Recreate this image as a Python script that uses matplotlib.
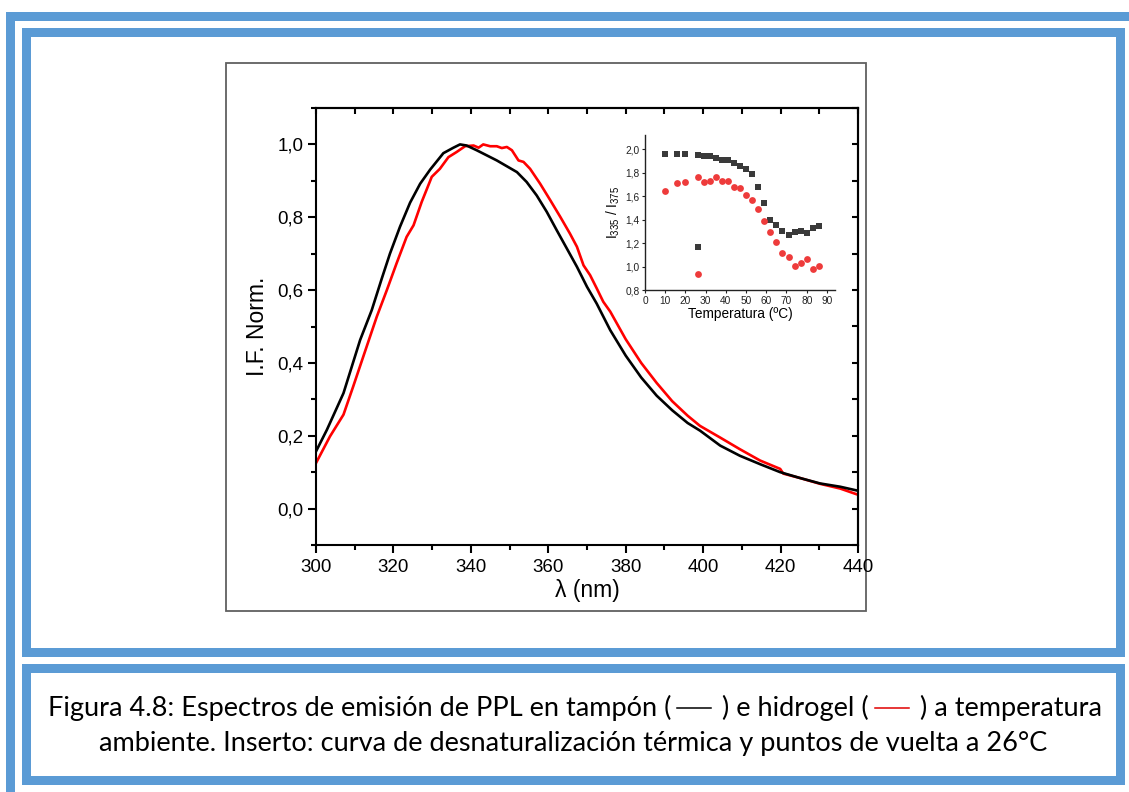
import matplotlib
matplotlib.use("Agg")
import matplotlib.pyplot as plt
from matplotlib.patches import Rectangle
from matplotlib.lines import Line2D
from matplotlib.ticker import MultipleLocator, FuncFormatter

# ---- emission spectra (normalised fluorescence intensity) ----
wl_buffer = [300, 302.8, 307.1, 311.4, 314.4, 317.0, 319.1, 321.7, 324.3, 326.9,
             329.5, 332.9, 335.5, 337.2, 338.9, 341.5, 344.1, 346.7, 349.3, 351.9,
             354.4, 357.0, 359.6, 362.2, 364.8, 367.4, 370.0, 372.5, 376.0, 380,
             384, 388, 392, 396, 399.2, 404.4, 409.5, 414.7, 419.9, 425.0, 430.2,
             435.4, 440]
if_buffer = [0.157, 0.216, 0.317, 0.463, 0.545, 0.632, 0.700, 0.774, 0.840, 0.892,
             0.931, 0.976, 0.991, 1.000, 0.997, 0.984, 0.970, 0.956, 0.940, 0.924,
             0.897, 0.860, 0.815, 0.764, 0.714, 0.664, 0.609, 0.563, 0.490, 0.420,
             0.360, 0.310, 0.270, 0.235, 0.214, 0.173, 0.145, 0.122, 0.100, 0.084,
             0.069, 0.060, 0.049]

wl_gel = [300, 303.6, 307.1, 309.6, 312.2, 315.7, 318.3, 320.8, 323.4, 325.2,
          327.3, 329.9, 332.0, 334.2, 336.3, 338.5, 340.7, 342.0, 343.2, 345.0,
          346.7, 348.0, 349.3, 350.6, 352.3, 353.6, 355.3, 357.9, 360.5, 363.1,
          365.6, 367.4, 369.1, 370.8, 372.5, 374.2, 376.0, 380, 384, 388, 392,
          396, 399.2, 404.4, 409.5, 414.7, 419.9, 420.7, 425.0, 430.2, 435.4, 440]
if_gel = [0.125, 0.198, 0.258, 0.335, 0.417, 0.527, 0.600, 0.673, 0.746, 0.778,
          0.842, 0.911, 0.933, 0.965, 0.979, 0.995, 0.997, 0.991, 1.000, 0.995,
          0.995, 0.990, 0.993, 0.984, 0.956, 0.952, 0.933, 0.892, 0.847, 0.801,
          0.755, 0.719, 0.668, 0.641, 0.605, 0.568, 0.541, 0.465, 0.400, 0.345,
          0.295, 0.255, 0.227, 0.195, 0.163, 0.132, 0.109, 0.096, 0.084, 0.068,
          0.055, 0.038]

# ---- thermal denaturation (inset) ----
temp = [10, 16, 20, 26, 29, 32, 35, 38, 41, 44, 47, 50, 53, 56, 59, 62, 65, 68,
        71, 74, 77, 80, 83, 86]
ratio_buffer = [1.957, 1.96, 1.958, 1.95, 1.94, 1.94, 1.92, 1.91, 1.91, 1.878,
                1.858, 1.83, 1.784, 1.674, 1.538, 1.40, 1.356, 1.299, 1.271,
                1.294, 1.302, 1.288, 1.33, 1.342]
ratio_gel = [1.643, 1.708, 1.722, 1.759, 1.722, 1.730, 1.759, 1.730, 1.730, 1.677,
             1.665, 1.609, 1.566, 1.489, 1.390, 1.296, 1.209, 1.118, 1.081, 1.007,
             1.033, 1.061, 0.979, 1.004]
temp_return = [26]
ratio_buffer_return = [1.163]
ratio_gel_return = [0.933]

main_xticks = [300, 320, 340, 360, 380, 400, 420, 440]
main_yticks = [0.0, 0.2, 0.4, 0.6, 0.8, 1.0]
inset_xticks = [0, 10, 20, 30, 40, 50, 60, 70, 80, 90]
inset_yticks = [0.8, 1.0, 1.2, 1.4, 1.6, 1.8, 2.0]

caption_line1 = ["Figura 4.8: Espectros de emisión de PPL en tampón (", "black",
                 " ) e hidrogel (", "red", " ) a temperatura"]
caption_line2 = "ambiente. Inserto: curva de desnaturalización térmica y puntos de vuelta a 26°C"

W, H = 1129, 792
BLUE = "#5b9bd5"
plt.rcParams["font.family"] = ["Liberation Sans", "DejaVu Sans"]
plt.rcParams["mathtext.default"] = "regular"

fig = plt.figure(figsize=(W / 100, H / 100), dpi=100)
fig.patch.set_facecolor("white")


def fx(x):
    return x / W


def fy(y):
    return 1 - y / H


def band_box(x0, y0, x1, y1, z):
    """Filled blue frame of 9 px thickness."""
    fig.add_artist(Rectangle((fx(x0), fy(y1)), fx(x1) - fx(x0), fy(y0) - fy(y1),
                             transform=fig.transFigure, facecolor=BLUE,
                             edgecolor="none", zorder=z))
    fig.add_artist(Rectangle((fx(x0 + 9), fy(y1 - 9)), fx(x1 - 9) - fx(x0 + 9),
                             fy(y0 + 9) - fy(y1 - 9), transform=fig.transFigure,
                             facecolor="white", edgecolor="none", zorder=z + 0.1))


# outer frame (runs past the right and bottom edges)
band_box(6, 12, 1140, 805, -10)
# chart box and caption box
band_box(22, 28, 1125, 657, -9)
band_box(22, 664, 1125, 785, -9)

# thin grey frame around the plot
fig.add_artist(Rectangle((fx(226), fy(611)), fx(866) - fx(226), fy(63) - fy(611),
                         transform=fig.transFigure, facecolor="white",
                         edgecolor="#606060", lw=1.3, zorder=-8))

comma = FuncFormatter(lambda v, p: f"{v:.1f}".replace(".", ","))

# ---- main axes ----
ax = fig.add_axes([fx(316), fy(545), fx(858) - fx(316), fy(108) - fy(545)])
ax.plot(wl_buffer, if_buffer, color="black", lw=1.9, zorder=3)
ax.plot(wl_gel, if_gel, color="#ff0000", lw=1.9, zorder=2)
ax.set_xlim(300, 440)
ax.set_ylim(-0.1, 1.1)
ax.set_xticks(main_xticks)
ax.set_yticks(main_yticks)
ax.xaxis.set_minor_locator(MultipleLocator(10))
ax.yaxis.set_minor_locator(MultipleLocator(0.1))
ax.yaxis.set_major_formatter(comma)
for s in ax.spines.values():
    s.set_linewidth(1.5)
ax.tick_params(axis="x", which="major", direction="out", length=6, width=1.5,
               labelsize=13.5, pad=4, top=False)
ax.tick_params(axis="x", which="minor", direction="out", length=3.5, width=1.5, top=False)
ax.tick_params(axis="y", which="major", direction="out", length=6, width=1.5,
               labelsize=13.5, pad=3, right=False)
ax.tick_params(axis="y", which="minor", direction="out", length=3.5, width=1.5, right=False)
ax.set_xlabel("λ (nm)", fontsize=16.5, labelpad=2)
ax.set_ylabel("I.F. Norm.", fontsize=16.5, labelpad=6)

top = ax.secondary_xaxis("top")
top.set_xticks(list(range(300, 441, 10)))
top.tick_params(direction="in", length=4, width=1.5, labeltop=False)
top.spines["top"].set_linewidth(1.5)
right = ax.secondary_yaxis("right")
right.set_yticks([i / 10 for i in range(-1, 12)])
right.tick_params(direction="in", length=4, width=1.5, labelright=False)
right.spines["right"].set_linewidth(1.5)

# ---- inset ----
ins = fig.add_axes([fx(645), fy(290), fx(835) - fx(645), fy(135) - fy(290)])
ins.set_facecolor("none")
ins.plot(temp, ratio_buffer, "s", color="#3a3a3a", ms=4.5, mew=0)
ins.plot(temp_return, ratio_buffer_return, "s", color="#3a3a3a", ms=4.5, mew=0)
ins.plot(temp, ratio_gel, "o", color="#ee3b3b", ms=4.9, mew=0)
ins.plot(temp_return, ratio_gel_return, "o", color="#ee3b3b", ms=4.9, mew=0)
ins.set_xlim(0, 94)
ins.set_ylim(0.8, 2.12)
ins.set_xticks(inset_xticks)
ins.set_yticks(inset_yticks)
ins.yaxis.set_major_formatter(comma)
ins.spines["top"].set_visible(False)
ins.spines["right"].set_visible(False)
for s in ("left", "bottom"):
    ins.spines[s].set_linewidth(1.0)
    ins.spines[s].set_color("#222222")
ins.tick_params(which="major", direction="out", length=2.5, width=0.8,
                labelsize=7.3, pad=1.5, colors="#222222")
ins.set_xlabel("Temperatura (ºC)", fontsize=9.8, labelpad=1)
ins.set_ylabel("I$_{335}$ / I$_{375}$", fontsize=9.8, labelpad=2)

# ---- caption ----
cap_font = dict(family=["Lato", "DejaVu Sans"], fontsize=19.5, color="black")
renderer = fig.canvas.get_renderer()
seg_len = 34
gap_before, gap_after = 6, 4


def piece_width(s):
    t = fig.text(0, 0, s, **cap_font)
    w = t.get_window_extent(renderer).width
    t.remove()
    return w


widths = []
for p in caption_line1:
    if p in ("black", "red"):
        widths.append(gap_before + seg_len + gap_after)
    else:
        widths.append(piece_width(p))
x = 575 - sum(widths) / 2
base1 = 716
for p, w in zip(caption_line1, widths):
    if p in ("black", "red"):
        fig.add_artist(Line2D([fx(x + gap_before), fx(x + gap_before + seg_len)],
                              [fy(base1 - 8), fy(base1 - 8)],
                              transform=fig.transFigure,
                              color="black" if p == "black" else "#e00000", lw=1.1))
    else:
        fig.text(fx(x), fy(base1), p, ha="left", va="baseline", **cap_font)
    x += w
fig.text(fx(573.5), fy(751), caption_line2, ha="center", va="baseline", **cap_font)

fig.savefig("out.png", dpi=100, facecolor="white")
